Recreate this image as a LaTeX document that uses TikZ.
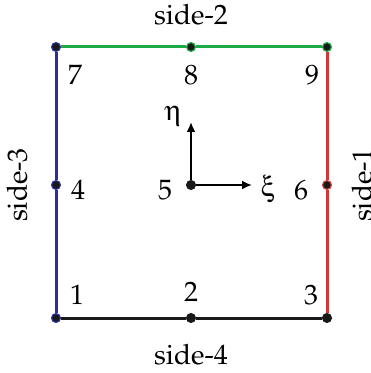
\documentclass[tikz,border=0pt]{standalone}
\usepackage[T1]{fontenc}
\usepackage{mathpazo}
\usepackage[Symbol]{upgreek}
\usetikzlibrary{arrows.meta}
\definecolor{sideRed}{RGB}{210,55,55}
\definecolor{sideGreen}{RGB}{30,170,70}
\definecolor{sideBlue}{RGB}{40,50,150}
\tikzset{
  gridDot/.style={circle, fill=black!90, draw=#1, line width=0.6pt, inner sep=0pt, minimum size=4.4pt},
  gridDot/.default=black!90,
  sideLine/.style={line width=1.5pt},
  dirArrow/.style={line width=1pt, -{Latex[length=5pt,width=4.5pt]}},
  numLabel/.style={inner sep=0pt, font=\fontsize{14}{16}\selectfont},
}

\begin{document}
\begin{tikzpicture}[x=0.5pt,y=-0.5pt]
\useasboundingbox (0,0) rectangle (370,373);
% nodes 1..9
\node[gridDot=sideBlue] (n1) at (56,318) {};
\node[gridDot] (n2) at (191,318) {};
\node[gridDot] (n3) at (327,318) {};
\node[gridDot=sideBlue] (n4) at (56,185) {};
\node[gridDot] (n5) at (191,185) {};
\node[gridDot=sideRed] (n6) at (327,185) {};
\node[gridDot=sideBlue] (n7) at (56,47) {};
\node[gridDot=sideGreen] (n8) at (191,47) {};
\node[gridDot=sideGreen] (n9) at (327,47) {};
% sides
\draw[sideLine, black!90] (n1) -- (n2) -- (n3);
\draw[sideLine, sideRed] (n3) -- (n6) -- (n9);
\draw[sideLine, sideGreen] (n7) -- (n8) -- (n9);
\draw[sideLine, sideBlue] (n1) -- (n4) -- (n7);
% local axes
\coordinate (xiTip) at (252,185);
\coordinate (etaTip) at (191,122);
\draw[dirArrow] (n5) -- (xiTip);
\draw[dirArrow] (n5) -- (etaTip);
\node[numLabel] (xi) at (268,189) {$\upxi$};
\node[numLabel] (eta) at (173,116) {$\upeta$};
% numbers
\node[numLabel] (l1) at (77,295) {1};
\node[numLabel] (l2) at (191,292) {2};
\node[numLabel] (l3) at (311,295) {3};
\node[numLabel] (l4) at (78,190) {4};
\node[numLabel] (l5) at (165,190) {5};
\node[numLabel] (l6) at (301,190) {6};
\node[numLabel] (l7) at (75,75) {7};
\node[numLabel] (l8) at (191,75) {8};
\node[numLabel] (l9) at (312,75) {9};
% side names
\node[numLabel] (s1) at (362,185) [rotate=90] {side-1};
\node[numLabel] (s2) at (191,15) {side-2};
\node[numLabel] (s3) at (17,185) [rotate=90] {side-3};
\node[numLabel] (s4) at (191,355) {side-4};
\end{tikzpicture}
\end{document}
